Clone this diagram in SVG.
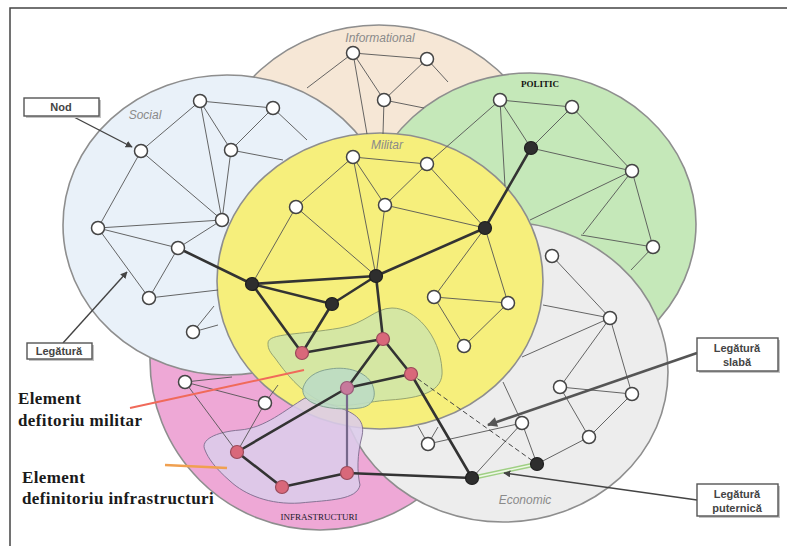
<svg xmlns="http://www.w3.org/2000/svg" width="787" height="546" viewBox="0 0 787 546">
<defs>
<style>
.dom{stroke:#8e8e8e;stroke-width:1.6}
.t{stroke:#555;stroke-width:0.9;fill:none}
.k{stroke:#333;stroke-width:2.6;fill:none;stroke-linecap:round}
.w{fill:#fff;stroke:#444;stroke-width:1.5}
.d{fill:#2e2e2e;stroke:#1e1e1e;stroke-width:1.2}
.r{fill:#d9687a;stroke:#9a4a5a;stroke-width:1.2}
.lab{font-family:"Liberation Sans",Arial,sans-serif;font-style:italic;font-size:12px;fill:#8a8a8a}
.box{fill:#fff;stroke:#555;stroke-width:1.4}
.sh{fill:#c4c4c4}
.bt{font-family:"Liberation Sans",Arial,sans-serif;font-weight:bold;font-size:11px;fill:#444;text-anchor:middle}
.el{font-family:"Liberation Serif","Times New Roman",serif;font-weight:bold;font-size:17px;letter-spacing:0.4px;fill:#1a1a1a}
.ptr{stroke:#444;fill:none}
</style>
<marker id="ah" viewBox="0 0 10 10" refX="9" refY="5" markerWidth="7" markerHeight="7" orient="auto" markerUnits="userSpaceOnUse">
<path d="M0,0 L10,5 L0,10 Z" fill="#444"/>
</marker>
<marker id="ahb" viewBox="0 0 10 10" refX="9" refY="5" markerWidth="12" markerHeight="10" orient="auto" markerUnits="userSpaceOnUse">
<path d="M0,0 L10,5 L0,10 Z" fill="#555"/>
</marker>
</defs>
<rect width="787" height="546" fill="#fff"/>
<path d="M10,546 L10,8 L787,8" fill="none" stroke="#444" stroke-width="1.5"/>

<g id="domains">
<ellipse id="informational" class="dom" cx="379" cy="177" rx="167" ry="152" fill="#f6e7d6"/>
<circle id="infrastructuri" class="dom" cx="320" cy="360" r="170" fill="#eea8d6"/>
<ellipse id="social" class="dom" cx="227" cy="225" rx="164" ry="150" fill="#e9f1f9"/>
<ellipse id="politic" class="dom" cx="530" cy="224" rx="166" ry="151" fill="#c5e8b9"/>
<ellipse id="economic" class="dom" cx="503" cy="372" rx="165" ry="150" fill="#ededed"/>
<ellipse id="militar" class="dom" cx="380" cy="281" rx="163" ry="148" fill="#f6ef7c" stroke="#c8c070"/>
</g>

<g id="blobs">
<path id="blob-militar" d="M268,343 C268,333 300,335 340,328 C365,324 375,308 392,308 C415,308 440,335 442,370 C444,392 420,398 390,400 C360,402 345,410 322,402 C300,392 285,372 275,358 C268,350 268,347 268,343 Z" fill="#d2e5a7" fill-opacity="0.9" stroke="#8c9c6c" stroke-width="0.9"/>
<path id="blob-infra" d="M205,450 C200,440 215,432 240,430 C265,428 285,410 305,398 L335,406 C352,412 366,418 362,436 C357,455 357,472 360,485 C357,500 330,500 300,503 C270,505 245,495 230,481 C215,468 208,458 205,450 Z" fill="#dcccea" fill-opacity="0.88" stroke="#7c6c8c" stroke-width="0.9"/>
<path id="blob-core" d="M303,388 C306,378 315,371 330,369 C348,366 366,372 372,384 C377,395 374,406 360,408 C345,410 325,409 313,403 C305,399 302,394 303,388 Z" fill="#bcdcc4" fill-opacity="0.9" stroke="#7c9c8c" stroke-width="0.9"/>
</g>

<g id="connectors">
<line class="t" x1="353" y1="53" x2="427" y2="59"/>
<line class="t" x1="353" y1="53" x2="384" y2="100"/>
<line class="t" x1="427" y1="59" x2="384" y2="100"/>
<line class="t" x1="353" y1="53" x2="307" y2="88"/>
<line class="t" x1="353" y1="53" x2="367" y2="134"/>
<line class="t" x1="384" y1="100" x2="383" y2="134"/>
<line class="t" x1="384" y1="100" x2="424" y2="108"/>
<line class="t" x1="427" y1="59" x2="448" y2="82"/>
<line class="t" x1="200" y1="101" x2="273" y2="108"/>
<line class="t" x1="200" y1="101" x2="141" y2="151"/>
<line class="t" x1="200" y1="101" x2="231" y2="150"/>
<line class="t" x1="200" y1="101" x2="222" y2="220"/>
<line class="t" x1="273" y1="108" x2="231" y2="150"/>
<line class="t" x1="231" y1="150" x2="222" y2="220"/>
<line class="t" x1="141" y1="151" x2="98" y2="228"/>
<line class="t" x1="141" y1="151" x2="222" y2="220"/>
<line class="t" x1="98" y1="228" x2="222" y2="220"/>
<line class="t" x1="98" y1="228" x2="178" y2="248"/>
<line class="t" x1="98" y1="228" x2="149" y2="298"/>
<line class="t" x1="222" y1="220" x2="178" y2="248"/>
<line class="t" x1="178" y1="248" x2="149" y2="298"/>
<line class="t" x1="231" y1="150" x2="283" y2="160"/>
<line class="t" x1="273" y1="108" x2="307" y2="140"/>
<line class="t" x1="149" y1="298" x2="218" y2="290"/>
<line class="t" x1="193" y1="332" x2="218" y2="325"/>
<line class="t" x1="193" y1="332" x2="214" y2="306"/>
<line class="t" x1="185" y1="382" x2="265" y2="403"/>
<line class="t" x1="185" y1="382" x2="232" y2="377"/>
<line class="t" x1="185" y1="382" x2="237" y2="452"/>
<line class="t" x1="265" y1="403" x2="237" y2="452"/>
<line class="t" x1="265" y1="403" x2="278" y2="385"/>
<line class="t" x1="500" y1="100" x2="572" y2="107"/>
<line class="t" x1="500" y1="100" x2="531" y2="148"/>
<line class="t" x1="572" y1="107" x2="531" y2="148"/>
<line class="t" x1="531" y1="148" x2="632" y2="171"/>
<line class="t" x1="572" y1="107" x2="632" y2="171"/>
<line class="t" x1="632" y1="171" x2="653" y2="247"/>
<line class="t" x1="500" y1="100" x2="427" y2="164"/>
<line class="t" x1="500" y1="100" x2="505" y2="186"/>
<line class="t" x1="632" y1="171" x2="530" y2="220"/>
<line class="t" x1="632" y1="171" x2="583" y2="234"/>
<line class="t" x1="653" y1="247" x2="581" y2="235"/>
<line class="t" x1="653" y1="247" x2="631" y2="270"/>
<line class="t" x1="353" y1="157" x2="427" y2="164"/>
<line class="t" x1="353" y1="157" x2="296" y2="207"/>
<line class="t" x1="353" y1="157" x2="385" y2="205"/>
<line class="t" x1="353" y1="157" x2="376" y2="276"/>
<line class="t" x1="427" y1="164" x2="385" y2="205"/>
<line class="t" x1="427" y1="164" x2="485" y2="228"/>
<line class="t" x1="385" y1="205" x2="485" y2="228"/>
<line class="t" x1="385" y1="205" x2="376" y2="276"/>
<line class="t" x1="296" y1="207" x2="376" y2="276"/>
<line class="t" x1="296" y1="207" x2="252" y2="284"/>
<line class="t" x1="485" y1="228" x2="434" y2="297"/>
<line class="t" x1="485" y1="228" x2="508" y2="303"/>
<line class="t" x1="434" y1="297" x2="508" y2="303"/>
<line class="t" x1="434" y1="297" x2="464" y2="346"/>
<line class="t" x1="508" y1="303" x2="464" y2="346"/>
<line class="t" x1="552" y1="256" x2="610" y2="318"/>
<line class="t" x1="610" y1="318" x2="560" y2="387"/>
<line class="t" x1="610" y1="318" x2="632" y2="394"/>
<line class="t" x1="560" y1="387" x2="632" y2="394"/>
<line class="t" x1="560" y1="387" x2="589" y2="437"/>
<line class="t" x1="632" y1="394" x2="589" y2="437"/>
<line class="t" x1="589" y1="437" x2="537" y2="464"/>
<line class="t" x1="522" y1="423" x2="537" y2="464"/>
<line class="t" x1="522" y1="423" x2="472" y2="478"/>
<line class="t" x1="428" y1="444" x2="522" y2="423"/>
<line class="t" x1="610" y1="318" x2="543" y2="305"/>
<line class="t" x1="610" y1="318" x2="522" y2="357"/>
<line class="t" x1="522" y1="423" x2="503" y2="382"/>
<line class="t" x1="428" y1="444" x2="418" y2="426"/>
<line class="t" x1="428" y1="444" x2="438" y2="427"/>
<line x1="411" y1="374" x2="537" y2="464" stroke="#444" stroke-width="1" stroke-dasharray="5 3"/>
<line x1="472" y1="478" x2="537" y2="464" stroke="#9fcf84" stroke-width="4.5"/>
<line x1="472" y1="478" x2="537" y2="464" stroke="#eef7e6" stroke-width="1.6"/>
<line class="k" x1="178" y1="248" x2="252" y2="284"/>
<line class="k" x1="252" y1="284" x2="376" y2="276"/>
<line class="k" x1="252" y1="284" x2="332" y2="304"/>
<line class="k" x1="332" y1="304" x2="376" y2="276"/>
<line class="k" x1="376" y1="276" x2="485" y2="228"/>
<line class="k" x1="485" y1="228" x2="531" y2="148"/>
<line class="k" x1="252" y1="284" x2="302" y2="353"/>
<line class="k" x1="332" y1="304" x2="302" y2="353"/>
<line class="k" x1="376" y1="276" x2="383" y2="339"/>
<line class="k" x1="302" y1="353" x2="383" y2="339"/>
<line class="k" x1="383" y1="339" x2="347" y2="388"/>
<line class="k" x1="383" y1="339" x2="411" y2="374"/>
<line class="k" x1="411" y1="374" x2="347" y2="388"/>
<line class="k" x1="347" y1="388" x2="237" y2="452"/>
<line x1="347" y1="388" x2="347" y2="473" stroke="#76688a" stroke-width="2.2"/>
<line class="k" x1="237" y1="452" x2="282" y2="487"/>
<line class="k" x1="282" y1="487" x2="347" y2="473"/>
<line class="k" x1="347" y1="473" x2="472" y2="478"/>
<line class="k" x1="411" y1="374" x2="472" y2="478"/>
<line class="ptr" stroke-width="1.4" x1="70" y1="115" x2="132" y2="147" marker-end="url(#ah)"/>
<line class="ptr" stroke-width="1.4" x1="63" y1="343" x2="127" y2="272" marker-end="url(#ah)"/>
<line x1="697" y1="353" x2="488" y2="425" stroke="#555" stroke-width="2.6" marker-end="url(#ahb)"/>
<line class="ptr" stroke-width="1.6" x1="697" y1="500" x2="504" y2="473" marker-end="url(#ah)"/>
<line x1="130" y1="408" x2="304" y2="370" stroke="#f06a5a" stroke-width="2"/>
<line x1="165" y1="465" x2="227" y2="468" stroke="#f0a050" stroke-width="2.6"/>
</g>

<g id="nodes">
<circle id="i1" class="w" cx="353" cy="53" r="6.5"/>
<circle id="i2" class="w" cx="427" cy="59" r="6.5"/>
<circle id="i3" class="w" cx="384" cy="100" r="6.5"/>
<circle id="s1" class="w" cx="200" cy="101" r="6.5"/>
<circle id="s2" class="w" cx="273" cy="108" r="6.5"/>
<circle id="s3" class="w" cx="141" cy="151" r="6.5"/>
<circle id="s4" class="w" cx="231" cy="150" r="6.5"/>
<circle id="s5" class="w" cx="98" cy="228" r="6.5"/>
<circle id="s6" class="w" cx="222" cy="220" r="6.5"/>
<circle id="s7" class="w" cx="178" cy="248" r="6.5"/>
<circle id="s8" class="w" cx="149" cy="298" r="6.5"/>
<circle id="s9" class="w" cx="193" cy="332" r="6.5"/>
<circle id="n1" class="w" cx="185" cy="382" r="6.5"/>
<circle id="n2" class="w" cx="265" cy="403" r="6.5"/>
<circle id="p1" class="w" cx="500" cy="100" r="6.5"/>
<circle id="p2" class="w" cx="572" cy="107" r="6.5"/>
<circle id="p3" class="d" cx="531" cy="148" r="6.5"/>
<circle id="p4" class="w" cx="632" cy="171" r="6.5"/>
<circle id="p5" class="w" cx="653" cy="247" r="6.5"/>
<circle id="m1" class="w" cx="353" cy="157" r="6.5"/>
<circle id="m2" class="w" cx="427" cy="164" r="6.5"/>
<circle id="m3" class="w" cx="296" cy="207" r="6.5"/>
<circle id="m4" class="w" cx="385" cy="205" r="6.5"/>
<circle id="md1" class="d" cx="485" cy="228" r="6.5"/>
<circle id="md2" class="d" cx="376" cy="276" r="6.5"/>
<circle id="md3" class="d" cx="252" cy="284" r="6.5"/>
<circle id="md4" class="d" cx="332" cy="304" r="6.5"/>
<circle id="m5" class="w" cx="434" cy="297" r="6.5"/>
<circle id="m6" class="w" cx="508" cy="303" r="6.5"/>
<circle id="m7" class="w" cx="464" cy="346" r="6.5"/>
<circle id="r1" class="r" cx="302" cy="353" r="6.5"/>
<circle id="r2" class="r" cx="383" cy="339" r="6.5"/>
<circle id="r3" class="r" cx="411" cy="374" r="6.5"/>
<circle id="r4" cx="347" cy="388" r="6.5" fill="#c77a9c" stroke="#9a5a78" stroke-width="1.2"/>
<circle id="r5" class="r" cx="237" cy="452" r="6.5"/>
<circle id="r6" class="r" cx="282" cy="487" r="6.5"/>
<circle id="r7" class="r" cx="347" cy="473" r="6.5"/>
<circle id="e0" class="w" cx="552" cy="256" r="6.5"/>
<circle id="e1" class="w" cx="610" cy="318" r="6.5"/>
<circle id="e2" class="w" cx="560" cy="387" r="6.5"/>
<circle id="e3" class="w" cx="632" cy="394" r="6.5"/>
<circle id="e4" class="w" cx="522" cy="423" r="6.5"/>
<circle id="e5" class="w" cx="589" cy="437" r="6.5"/>
<circle id="e6" class="w" cx="428" cy="444" r="6.5"/>
<circle id="ed1" class="d" cx="472" cy="478" r="6.5"/>
<circle id="ed2" class="d" cx="537" cy="464" r="6.5"/>
</g>

<g id="labels">
<text class="lab" x="380" y="42" text-anchor="middle">Informational</text>
<text class="lab" x="145" y="119" text-anchor="middle">Social</text>
<text class="lab" x="387" y="149" text-anchor="middle">Militar</text>
<text class="lab" x="525" y="504" text-anchor="middle">Economic</text>
<text x="540" y="87" text-anchor="middle" font-family="Liberation Serif,'Times New Roman',serif" font-weight="bold" font-size="9" fill="#111">POLITIC</text>
<text x="319" y="520" text-anchor="middle" font-family="Liberation Serif,'Times New Roman',serif" font-size="9" fill="#1a1a2a">INFRASTRUCTURI</text>
<text class="el" x="18" y="404">Element</text>
<text class="el" x="18" y="426">defitoriu militar</text>
<text class="el" x="22" y="483">Element</text>
<text class="el" x="22" y="504">definitoriu infrastructuri</text>
</g>

<g id="legend-nod">
<rect class="sh" x="26" y="100" width="75" height="18"/>
<rect class="box" x="24" y="98" width="75" height="18"/>
<text class="bt" x="61" y="111">Nod</text>
</g>
<g id="legend-legatura">
<rect class="sh" x="29" y="345" width="65" height="16"/>
<rect class="box" x="27" y="343" width="65" height="16"/>
<text class="bt" x="59" y="355">Legătură</text>
</g>
<g id="legend-slaba">
<rect class="sh" x="699" y="340" width="81" height="33"/>
<rect class="box" x="697" y="338" width="81" height="33"/>
<text class="bt" x="737" y="352">Legătură</text>
<text class="bt" x="737" y="366">slabă</text>
</g>
<g id="legend-puternica">
<rect class="sh" x="699" y="486" width="81" height="32"/>
<rect class="box" x="697" y="484" width="81" height="32"/>
<text class="bt" x="737" y="498">Legătură</text>
<text class="bt" x="737" y="512">puternică</text>
</g>
</svg>
